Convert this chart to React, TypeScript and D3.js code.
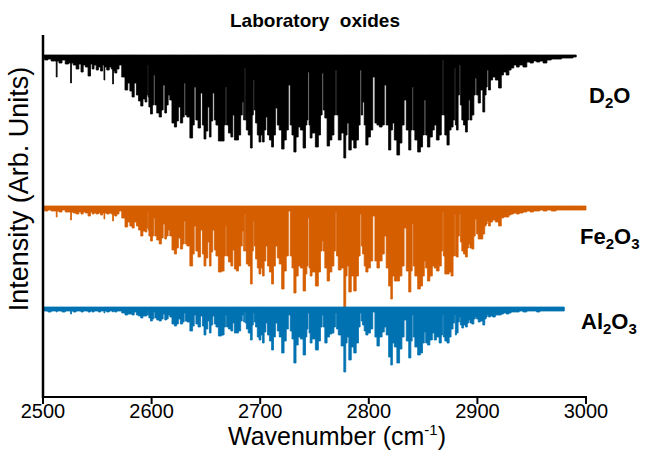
import React from "react";
import * as d3 from "d3";

// Shared wavenumber grid (cm^-1)
const WAVENUMBER: number[] = [
  2500, 2503, 2506, 2509, 2511.8, 2512.6, 2513.4, 2516, 2519, 2522,
  2525, 2525.8, 2526.6, 2529, 2532, 2534, 2536, 2538, 2540, 2543,
  2544.5, 2546, 2548, 2550, 2552, 2554, 2555.8, 2556.5, 2557.3, 2560,
  2562, 2563.7, 2564.5, 2565.3, 2567, 2569, 2571, 2574, 2577, 2579,
  2581, 2583, 2585, 2587, 2589, 2591, 2593, 2595, 2596.2, 2596.6,
  2597, 2598, 2600, 2601.5, 2602.5, 2603.5, 2606, 2608, 2610, 2611.3,
  2613, 2614.5, 2616, 2617.5, 2620, 2622, 2624, 2625.3, 2627.7, 2629.5,
  2630.5, 2631.5, 2633.5, 2637, 2638.5, 2640, 2641.5, 2644, 2646, 2647.5,
  2649, 2651, 2652.5, 2654, 2655.5, 2657, 2658.5, 2660, 2663, 2666,
  2667.5, 2668.5, 2669.5, 2672, 2674, 2675.5, 2677, 2679, 2681, 2683,
  2684, 2685.5, 2686, 2686.5, 2688, 2690, 2692, 2693.3, 2694, 2694.8,
  2696.7, 2698, 2699.8, 2701.5, 2702.8, 2704.5, 2706, 2707.5, 2709.5, 2711.5,
  2713, 2715, 2716.5, 2718.5, 2721, 2723, 2725, 2726.8, 2728.5, 2730,
  2732, 2734, 2736, 2738, 2741, 2742.5, 2743.5, 2744.5, 2745.5, 2746.5,
  2749, 2752.6, 2754.5, 2756.5, 2757.5, 2758.5, 2760.5, 2762.7, 2765, 2767,
  2768.8, 2769.8, 2770.8, 2773, 2776, 2778, 2779.5, 2780.5, 2782.7, 2785,
  2787.3, 2789.5, 2791.5, 2792.5, 2793.5, 2795, 2796.5, 2798, 2800.5, 2802.5,
  2804.8, 2806.5, 2808.5, 2811, 2813.5, 2815, 2817, 2819.5, 2821, 2822.5,
  2824.5, 2827.2, 2829.5, 2831.5, 2833.5, 2835.5, 2838, 2839.5, 2840.4, 2841.3,
  2843.5, 2846.5, 2848.5, 2850.5, 2851.7, 2853, 2855, 2857.5, 2859.5, 2861,
  2863.5, 2866, 2867.5, 2868.2, 2869, 2871, 2873, 2875, 2876.5, 2878.7,
  2879.4, 2880, 2881.5, 2883, 2883.8, 2884.8, 2886.5, 2888, 2890, 2891.5,
  2892.5, 2893.8, 2896, 2897.5, 2898.5, 2900, 2901.5, 2904, 2906, 2907.5,
  2908.5, 2909.5, 2911, 2913, 2915, 2918, 2921, 2923, 2925, 2928,
  2930, 2932, 2935, 2937, 2940, 2944, 2947, 2950, 2953, 2956,
  2959, 2962, 2966, 2970, 2975, 2980, 2985, 2991, 2995, 3000,
];

// Absorption depth below each baseline (arb. units x 100)
const D2O_DEPTH: (number | null)[] = [
  3, 5, 4, 6, 6, 22, 6, 8, 5, 9,
  8, 28, 8, 10, 14, 9, 17, 10, 12, 21,
  9, 14, 10, 15, 12, 16, 10, 25, 12, 15,
  12, 14, 29, 16, 18, 14, 10, 22, 35, 28,
  36, 42, 28, 40, 46, 51, 44, 47, 40, 10,
  42, 52, 59, 50, 20, 50, 58, 62, 55, 30,
  58, 50, 40, 45, 68, 72, 66, 52, 68, 62,
  28, 60, 62, 83, 70, 32, 65, 73, 38, 70,
  84, 76, 52, 82, 66, 38, 65, 70, 86, 86,
  70, 32, 70, 78, 82, 60, 85, 85, 80, 60,
  47, 65, 13, 65, 75, 80, 93, 60, 25, 55,
  68, 80, 87, 80, 87, 75, 62, 80, 85, 92,
  80, 53, 70, 75, 94, 85, 75, 30, 70, 80,
  97, 82, 72, 75, 93, 70, 65, 17, 70, 83,
  78, 92, 80, 60, 18, 55, 63, 91, 85, 80,
  60, 15, 60, 85, 78, 103, 80, 68, 95, 85,
  93, 85, 70, 15, 60, 47, 70, 90, 82, 75,
  22, 68, 70, 72, 70, 30, 70, 95, 75, 68,
  85, 100, 88, 70, 45, 75, 95, 75, 32, 75,
  85, 97, 92, 80, 45, 80, 92, 82, 75, 70,
  85, 80, 60, 5, 60, 80, 90, 75, 72, 65,
  13, 70, 75, 40, 10, 50, 65, 70, 77, 65,
  45, 65, 60, 40, 23, 40, 48, 35, 57, 40,
  32, 15, 35, 25, 22, 25, 33, 20, 17, 20,
  15, 13, 10, 12, 10, 12, 7, 8, 6, 7,
  6, 8, 5, 4, 4, 3, 3, 2, null, null,
];

const FE2O3_DEPTH: (number | null)[] = [
  4, 5, 4, 5, 5, 11, 5, 6, 4, 6,
  6, 14, 6, 7, 8, 6, 8, 6, 7, 10,
  6, 8, 7, 8, 7, 9, 7, 13, 7, 8,
  7, 8, 15, 9, 10, 8, 5, 12, 21, 16,
  20, 22, 16, 20, 24, 30, 25, 26, 22, 6,
  24, 30, 35, 30, 12, 30, 34, 38, 32, 18,
  33, 30, 24, 30, 44, 48, 42, 32, 43, 38,
  15, 38, 40, 60, 48, 20, 45, 51, 24, 48,
  60, 52, 36, 60, 46, 24, 44, 50, 66, 65,
  50, 20, 50, 56, 60, 44, 63, 65, 60, 40,
  25, 45, 8, 45, 58, 60, 78, 45, 15, 40,
  53, 62, 68, 62, 70, 55, 40, 60, 66, 78,
  60, 40, 52, 58, 83, 65, 50, 5, 50, 62,
  87, 70, 60, 62, 85, 68, 60, 12, 62, 70,
  66, 80, 66, 45, 35, 45, 62, 75, 66, 60,
  45, 6, 50, 64, 62, 102, 70, 60, 86, 70,
  85, 70, 50, 8, 40, 48, 60, 66, 62, 55,
  10, 55, 62, 55, 48, 30, 62, 80, 93, 70,
  75, 75, 70, 60, 22, 65, 86, 65, 18, 60,
  70, 83, 80, 70, 55, 62, 75, 70, 60, 62,
  65, 60, 45, 6, 50, 68, 68, 66, 70, 50,
  8, 50, 51, 30, 8, 36, 45, 48, 51, 42,
  38, 42, 43, 30, 13, 28, 33, 33, 28, 20,
  18, 15, 20, 16, 14, 16, 20, 12, 11, 11,
  9, 8, 7, 8, 7, 6, 5, 6, 5, 5,
  4, 5, 4, 5, 4, 4, 4, 4, 4, 4,
];

const AL2O3_DEPTH: (number | null)[] = [
  4, 4, 5, 4, 4, 5, 4, 4, 5, 4,
  4, 7, 4, 5, 4, 4, 5, 4, 4, 5,
  4, 5, 4, 4, 5, 4, 4, 6, 4, 5,
  4, 4, 5, 4, 5, 4, 4, 6, 8, 7,
  7, 8, 5, 8, 9, 11, 9, 9, 8, 4,
  8, 11, 14, 12, 5, 11, 13, 14, 12, 7,
  13, 12, 8, 10, 17, 19, 17, 12, 17, 15,
  6, 14, 15, 24, 19, 8, 17, 20, 9, 19,
  28, 22, 14, 26, 18, 9, 17, 20, 29, 28,
  20, 8, 20, 22, 24, 16, 26, 26, 24, 14,
  8, 15, 5, 16, 22, 26, 33, 18, 6, 15,
  20, 30, 33, 28, 36, 25, 16, 28, 34, 43,
  30, 16, 24, 30, 46, 34, 22, 8, 24, 32,
  56, 38, 30, 32, 48, 30, 22, 6, 26, 36,
  32, 43, 34, 20, 8, 20, 36, 30, 27, 26,
  20, 6, 22, 28, 39, 65, 36, 30, 53, 40,
  46, 36, 20, 6, 14, 18, 24, 28, 26, 22,
  5, 30, 39, 30, 25, 20, 28, 50, 58, 36,
  40, 56, 42, 30, 13, 34, 51, 34, 8, 30,
  40, 48, 46, 36, 25, 36, 38, 33, 26, 33,
  30, 36, 28, 8, 30, 34, 36, 30, 22, 16,
  8, 28, 26, 15, 10, 18, 21, 18, 20, 16,
  13, 16, 17, 12, 10, 12, 15, 14, 18, 12,
  10, 8, 10, 9, 10, 8, 8, 7, 6, 7,
  6, 5, 5, 5, 4, 5, 4, 4, 4, 5,
  4, 4, 4, 4, 4, 4, null, null, null, null,
];

const SERIES_KEYS = ["D2O", "Fe2O3", "Al2O3"];
const SERIES_OFFSETS = [3.42, 1.91, 0.9];
const SERIES_COLORS = ["#000000", "#D55E00", "#0072B2"];
const X_TICKS = [2500, 2600, 2700, 2800, 2900, 3000];

const FONT = "'Liberation Sans', Arial, Helvetica, sans-serif";

export default function App() {
  const width = 647;
  const height = 472;
  const x = d3.scaleLinear().domain([2500, 3000]).range([43, 586]);
  const y = d3.scaleLinear().domain([0, 3.62]).range([397, 35]);

  const depths = [D2O_DEPTH, FE2O3_DEPTH, AL2O3_DEPTH];

  const areas = depths.map((dep, s) => {
    const off = SERIES_OFFSETS[s];
    const gen = d3
      .area<number>()
      .defined((_, i) => dep[i] != null)
      .x((_, i) => x(WAVENUMBER[i]))
      .y0(() => y(off))
      .y1((_, i) => y(off - (dep[i] as number) / 100))
      .curve(d3.curveStep);
    return gen(WAVENUMBER.map((_, i) => i)) || "";
  });

  return (
    <svg
      width={width}
      height={height}
      style={{ position: "absolute", left: 0, top: 0, background: "#fff" }}
      fontFamily={FONT}
    >
      <rect x={0} y={0} width={width} height={height} fill="#fff" />
      {/* title */}
      <text
        x={315}
        y={27}
        textAnchor="middle"
        fontSize={19}
        fontWeight="bold"
        style={{ whiteSpace: "pre" }}
      >
        {"Laboratory  oxides"}
      </text>

      {/* spectra */}
      {areas.map((d, s) => (
        <path
          key={SERIES_KEYS[s]}
          d={d}
          fill={SERIES_COLORS[s]}
          stroke={SERIES_COLORS[s]}
          strokeWidth={0.8}
        />
      ))}

      {/* axes */}
      <line x1={43} x2={43} y1={y(3.62)} y2={y(0) + 1} stroke="#000" strokeWidth={2.5} />
      <line x1={43} x2={x(3000) + 1} y1={y(0)} y2={y(0)} stroke="#000" strokeWidth={2} />
      {X_TICKS.map((t) => (
        <g key={t}>
          <line x1={x(t)} x2={x(t)} y1={y(0)} y2={y(0) + 7} stroke="#000" strokeWidth={2} />
          <text x={x(t)} y={418} textAnchor="middle" fontSize={20}>
            {t}
          </text>
        </g>
      ))}

      {/* axis titles */}
      <text x={337} y={445} textAnchor="middle" fontSize={25}>
        Wavenumber (cm
        <tspan dy={-10} fontSize={15}>-1</tspan>
        <tspan dy={10}>)</tspan>
      </text>
      <text
        transform={`translate(28,${y(2.08)}) rotate(-90)`}
        textAnchor="middle"
        fontSize={27}
      >
        Intensity (Arb. Units)
      </text>

      {/* series labels */}
      <text x={589} y={103} fontSize={22} fontWeight="bold">
        D<tspan dy={5} fontSize={15}>2</tspan>
        <tspan dy={-5}>O</tspan>
      </text>
      <text x={580} y={244} fontSize={22} fontWeight="bold">
        Fe<tspan dy={5} fontSize={15}>2</tspan>
        <tspan dy={-5}>O</tspan>
        <tspan dy={5} fontSize={15}>3</tspan>
      </text>
      <text x={581} y={329} fontSize={22} fontWeight="bold">
        Al<tspan dy={5} fontSize={15}>2</tspan>
        <tspan dy={-5}>O</tspan>
        <tspan dy={5} fontSize={15}>3</tspan>
      </text>
    </svg>
  );
}
